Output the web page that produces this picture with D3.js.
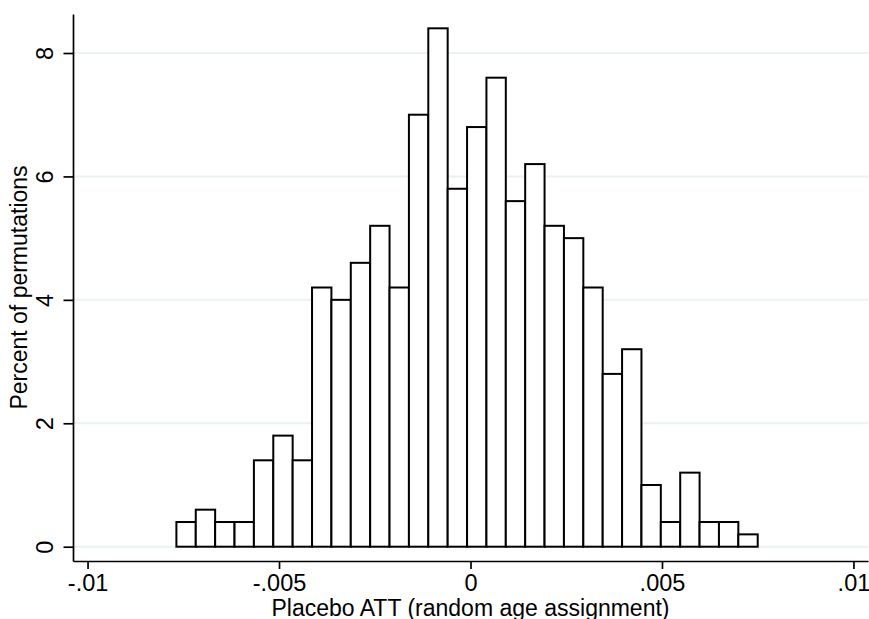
<!DOCTYPE html>
<html>
<head>
<meta charset="utf-8">
<script src="https://cdn.jsdelivr.net/npm/d3@7"></script>
<style>
  body { margin: 0; background: #fff; }
  svg { display: block; }
  text { font-family: "Liberation Sans", Arial, Helvetica, sans-serif; fill: #000; }
</style>
</head>
<body>
<svg id="chart" width="869" height="619"></svg>
<script>
// Histogram of placebo ATT estimates: 30 equal-width bins
const binStart = -0.00768;   // lower edge of the first bin
const binWidth = 0.000506;   // width of each bin
const percent = [0.4, 0.6, 0.4, 0.4, 1.4, 1.8, 1.4, 4.2, 4.0, 4.6,
                 5.2, 4.2, 7.0, 8.4, 5.8, 6.8, 7.6, 5.6, 6.2, 5.2,
                 5.0, 4.2, 2.8, 3.2, 1.0, 0.4, 1.2, 0.4, 0.4, 0.2];

const xTicks = [-0.01, -0.005, 0, 0.005, 0.01];
const xTickLabels = ["-.01", "-.005", "0", ".005", ".01"];
const yTicks = [0, 2, 4, 6, 8];
const yTickLabels = ["0", "2", "4", "6", "8"];
const xTitle = "Placebo ATT (random age assignment)";
const yTitle = "Percent of permutations";

const svg = d3.select("#chart");
const plot = { left: 73, right: 868, top: 14, bottom: 561 };

const x = d3.scaleLinear().domain([-0.01038, 0.01038]).range([plot.left, plot.right]);
const y = d3.scaleLinear().domain([-0.2317, 8.632]).range([plot.bottom, plot.top]);

const tickFont = 23.5;
const titleFont = 23;

// horizontal grid lines
svg.append("g").selectAll("line")
  .data(yTicks)
  .join("line")
  .attr("x1", plot.left)
  .attr("x2", plot.right)
  .attr("y1", d => y(d))
  .attr("y2", d => y(d))
  .attr("stroke", "#eaf2f3")
  .attr("stroke-width", 2);

// bars
const bins = percent.map((p, i) => ({
  x0: binStart + i * binWidth,
  x1: binStart + (i + 1) * binWidth,
  p
}));
svg.append("g").selectAll("rect")
  .data(bins)
  .join("rect")
  .attr("x", d => x(d.x0))
  .attr("width", d => x(d.x1) - x(d.x0))
  .attr("y", d => y(d.p))
  .attr("height", d => y(0) - y(d.p))
  .attr("fill", "#fff")
  .attr("stroke", "#000")
  .attr("stroke-width", 2);

// x axis
const xAxis = d3.axisBottom(x)
  .tickValues(xTicks)
  .tickFormat((d, i) => xTickLabels[i])
  .tickSize(8)
  .tickSizeOuter(0);
const gx = svg.append("g")
  .attr("transform", `translate(0,${plot.bottom})`)
  .call(xAxis);
gx.selectAll("path, line").attr("stroke", "#000").attr("stroke-width", 1.7);
gx.selectAll("text")
  .attr("y", 29.5)
  .attr("dy", null)
  .attr("font-size", tickFont)
  .attr("font-family", null)
  .attr("fill", "#000");

// y axis
const yAxis = d3.axisLeft(y)
  .tickValues(yTicks)
  .tickFormat((d, i) => yTickLabels[i])
  .tickSize(9.5)
  .tickSizeOuter(0);
const gy = svg.append("g")
  .attr("transform", `translate(${plot.left},0)`)
  .call(yAxis);
gy.selectAll("path, line").attr("stroke", "#000").attr("stroke-width", 1.7);
gy.selectAll("text")
  .attr("x", null)
  .attr("dy", null)
  .attr("transform", "translate(-20.5,0) rotate(-90)")
  .attr("text-anchor", "middle")
  .attr("font-size", tickFont)
  .attr("font-family", null)
  .attr("fill", "#000");

// axis titles
svg.append("text")
  .attr("x", (plot.left + plot.right) / 2)
  .attr("y", 615.5)
  .attr("text-anchor", "middle")
  .attr("font-size", titleFont)
  .text(xTitle);

svg.append("text")
  .attr("transform", `translate(26.5,${(plot.top + plot.bottom) / 2}) rotate(-90)`)
  .attr("text-anchor", "middle")
  .attr("font-size", titleFont)
  .text(yTitle);
</script>
</body>
</html>
